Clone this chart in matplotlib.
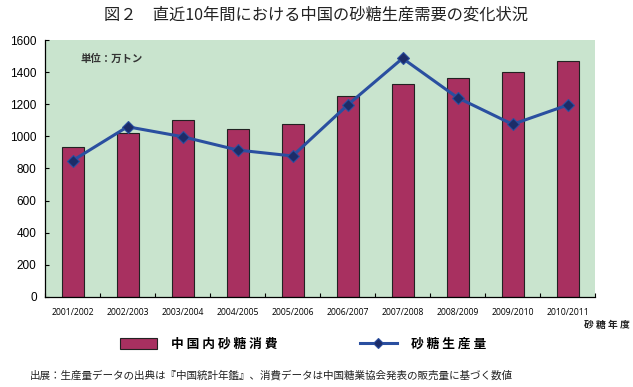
import matplotlib.pyplot as plt
import numpy as np

plt.rcParams['font.family'] = ['Noto Sans CJK JP', 'DejaVu Sans']

# sugar years
years = ['2001/2002', '2002/2003', '2003/2004', '2004/2005', '2005/2006',
         '2006/2007', '2007/2008', '2008/2009', '2009/2010', '2010/2011']
# domestic consumption (10k tons)
consumption = [932, 1019, 1102, 1046, 1075, 1251, 1326, 1361, 1399, 1467]
# production (10k tons)
production = [849, 1060, 998, 915, 878, 1195, 1486, 1241, 1075, 1195]
yticks = [0, 200, 400, 600, 800, 1000, 1200, 1400, 1600]

bar_color = '#A83060'
line_color = '#2A4FA0'
marker_color = '#1C2C68'
bg_color = '#C9E4CE'

fig = plt.figure(figsize=(6.33, 3.87), dpi=100)
ax = fig.add_axes([0.0711, 0.2326, 0.869, 0.664])
ax.set_facecolor(bg_color)

x = np.arange(len(years))
bars = ax.bar(x, consumption, width=0.4, color=bar_color, edgecolor='#222222',
              linewidth=0.8, zorder=2, label='中 国 内 砂 糖 消 費')
line, = ax.plot(x, production, color=line_color, linewidth=2.2, marker='D',
                markersize=6, markerfacecolor=marker_color,
                markeredgecolor=line_color, markeredgewidth=0.8, zorder=3,
                label='砂 糖 生 産 量')

ax.set_xlim(-0.5, len(years) - 0.5)
ax.set_ylim(0, 1600)
ax.set_yticks(yticks)
ax.set_yticklabels([str(v) for v in yticks], fontsize=8.5,
                   family=['Liberation Sans', 'DejaVu Sans'])
ax.set_xticks(x)
ax.set_xticklabels(years, fontsize=6.2, family=['Open Sans', 'DejaVu Sans'])
ax.set_xticks(np.arange(-0.5, len(years)), minor=True)
ax.tick_params(axis='x', which='major', length=0, pad=8)
ax.tick_params(axis='x', which='minor', length=3, direction='in', width=0.8)
ax.tick_params(axis='y', length=3, direction='in', width=0.8, pad=6)

for side in ['top', 'right']:
    ax.spines[side].set_visible(False)
ax.spines['left'].set_linewidth(0.9)
ax.spines['bottom'].set_linewidth(0.9)

ax.text(0.065, 0.925, '単位：万トン', transform=ax.transAxes, fontsize=7.5,
        fontweight='bold', color='#333333', va='center')

fig.text(0.5, 0.962, '図２　直近10年間における中国の砂糖生産需要の変化状況',
         ha='center', va='center', fontsize=11.7, color='#222222')
fig.text(0.995, 0.16, '砂 糖 年 度', ha='right', va='center', fontsize=7,
         fontweight='bold', color='#222222')
fig.text(0.047, 0.03,
         '出展：生産量データの出典は『中国統計年鑑』、消費データは中国糖業協会発表の販売量に基づく数値',
         ha='left', va='center', fontsize=7.6, color='#222222')

fig.legend(handles=[bars, line], loc='center left', bbox_to_anchor=(0.19, 0.11),
           ncol=2, frameon=False, handlelength=2.9, borderpad=0,
           handleheight=0.85, handletextpad=1.1, columnspacing=6.4,
           borderaxespad=0, markerscale=0.8,
           prop={'weight': 'bold', 'size': 9.2})

fig.savefig('out.png', dpi=100)
